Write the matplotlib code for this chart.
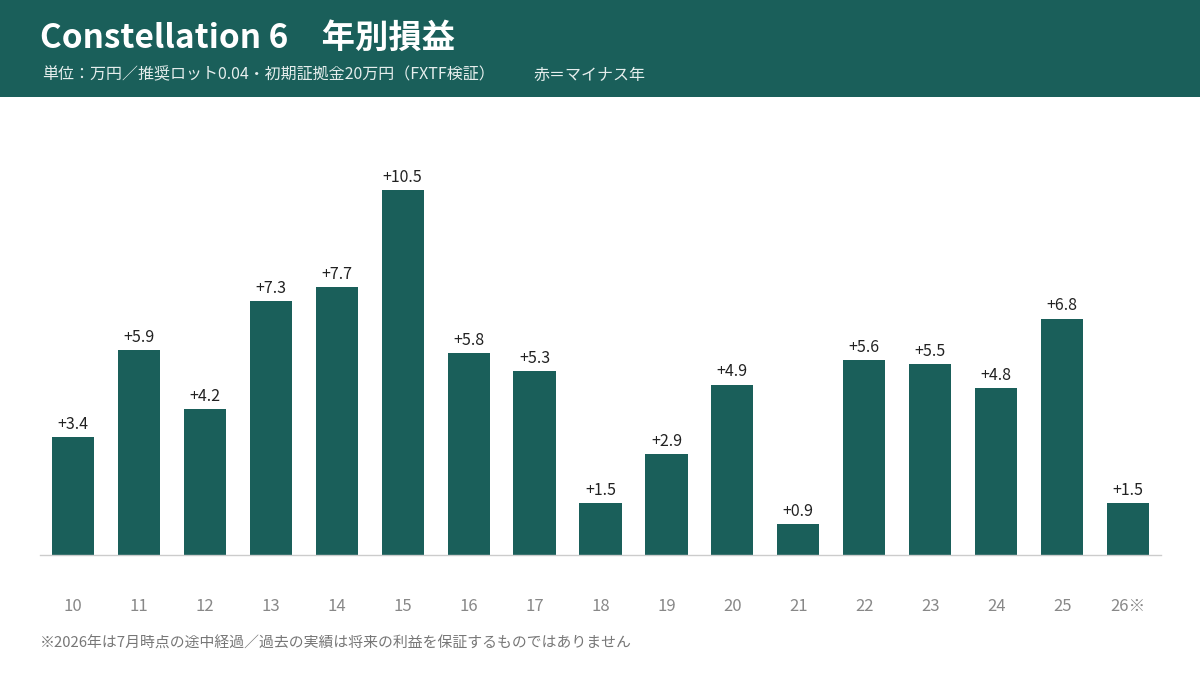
import matplotlib
matplotlib.use("Agg")
import matplotlib.pyplot as plt
from matplotlib.patches import Rectangle

plt.rcParams['font.family'] = ['Noto Sans CJK JP', 'DejaVu Sans']

years = ["10", "11", "12", "13", "14", "15", "16", "17", "18", "19", "20", "21", "22", "23", "24", "25", "26※"]
values = [3.4, 5.9, 4.2, 7.3, 7.7, 10.5, 5.8, 5.3, 1.5, 2.9, 4.9, 0.9, 5.6, 5.5, 4.8, 6.8, 1.5]
title = "Constellation 6　年別損益"
subtitle = "単位：万円／推奨ロット0.04・初期証拠金20万円（FXTF検証）"
legend_note = "赤＝マイナス年"
footnote = "※2026年は7月時点の途中経過／過去の実績は将来の利益を保証するものではありません"

GREEN = "#1a5f5a"
RED = "#c0392b"

W, H = 1200, 675
fig = plt.figure(figsize=(12, 6.75), dpi=100)
fig.patch.set_facecolor("white")

# header band
fig.patches.append(Rectangle((0, 1 - 97 / H), 1, 97 / H, transform=fig.transFigure,
                             facecolor=GREEN, edgecolor="none", zorder=0))
fig.text(40 / W, 1 - 38 / H, title, color="white", fontsize=24, fontweight="bold",
         va="center", ha="left")
fig.text(42 / W, 1 - 75 / H, subtitle, color="#e6eeed", fontsize=11.5, va="center", ha="left")
fig.text(533 / W, 1 - 75 / H, legend_note, color="#e6eeed", fontsize=11.5, va="center", ha="left")

# axes
ax_left, ax_right = 40, 1161
ax_bottom, ax_top = 555, 120
ax = fig.add_axes([ax_left / W, 1 - ax_bottom / H, (ax_right - ax_left) / W, (ax_bottom - ax_top) / H])
px_per_unit = (555 - 190) / 10.5
ax.set_ylim(0, (ax_bottom - ax_top) / px_per_unit)
ax.set_xlim(-0.5, len(years) - 0.5)

x = list(range(len(years)))
colors = [GREEN if v >= 0 else RED for v in values]
bars = ax.bar(x, values, width=0.64, color=colors, zorder=2)
for xi, v in zip(x, values):
    ax.annotate(f"{v:+.1f}", (xi, v), xytext=(0, 3), textcoords="offset points",
                ha="center", va="bottom", fontsize=11.5, color="#222222")

for s in ["top", "right", "left"]:
    ax.spines[s].set_visible(False)
ax.spines["bottom"].set_color("#cccccc")
ax.spines["bottom"].set_linewidth(1)
ax.set_yticks([])
ax.set_xticks(x)
ax.set_xticklabels(years, fontsize=12, color="#888888")
ax.tick_params(axis="x", length=0, pad=31)
ax.set_facecolor("none")

fig.text(40 / W, 1 - 644 / H, footnote, color="#777777", fontsize=10.7, va="center", ha="left")

fig.savefig("out.png", dpi=100, facecolor="white")
